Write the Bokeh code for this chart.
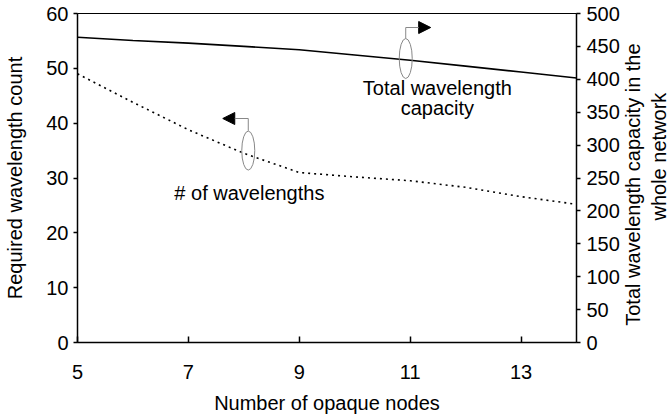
import math
from bokeh.plotting import figure
from bokeh.layouts import row
from bokeh.models import Range1d, LinearAxis, Arrow, NormalHead, FixedTicker
from bokeh.embed import file_html
from bokeh.resources import INLINE
from bokeh.core.properties import value

# ---- data ----
nodes = [5, 6, 7, 8, 9, 10, 11, 12, 13, 14]
wavelength_count = [49.0, 43.8, 38.8, 34.5, 31.0, 30.2, 29.5, 28.3, 26.6, 25.2]
total_capacity = [464, 459, 455, 450, 445, 437, 429, 420, 411, 402]
x_ticks = [5, 7, 9, 11, 13]
left_ticks = [0, 10, 20, 30, 40, 50, 60]
right_ticks = [0, 50, 100, 150, 200, 250, 300, 350, 400, 450, 500]
right_title = ["Total wavelength capacity in the", "whole network"]

# annotation anchors (data coordinates)
count_note = dict(x=8.08, y=35.0, top=38.6, bend=40.85, head=7.62)
cap_note = dict(x=10.92, y=431.6, top=462.0, bend=478.7, head=11.37)
right_title_x = [10, 36]      # within the side title strip
right_title_y = [28.8, 33.9]  # in left-axis units

FONT = "Liberation Sans"
FS = "20px"

p = figure(frame_width=499, frame_height=329, output_backend="svg", toolbar_location=None,
           x_range=Range1d(5, 14), y_range=Range1d(0, 60),
           min_border_left=77, min_border_right=44, min_border_top=13, min_border_bottom=73)
p.extra_y_ranges = {"right": Range1d(0, 500)}
p.grid.visible = False
p.outline_line_color = "black"
p.outline_line_width = 1
p.background_fill_color = "white"
p.border_fill_color = "white"

# x axis
xa = p.xaxis[0]
xa.ticker = FixedTicker(ticks=x_ticks)
xa.minor_tick_line_color = None
xa.major_tick_in = 6
xa.major_tick_out = 0
xa.major_label_standoff = 22
xa.axis_label = "Number of opaque nodes"
xa.axis_label_standoff = 10
# left axis
ya = p.yaxis[0]
ya.ticker = FixedTicker(ticks=left_ticks)
ya.minor_tick_line_color = None
ya.major_tick_in = 0
ya.major_tick_out = 4
ya.major_label_standoff = 5
ya.axis_label = "Required wavelength count"
ya.axis_label_standoff = 17
# right axis
ra = LinearAxis(y_range_name="right", ticker=FixedTicker(ticks=right_ticks))
ra.minor_tick_line_color = None
ra.major_tick_in = 0
ra.major_tick_out = 4
ra.major_label_standoff = 6
p.add_layout(ra, "right")

for ax in (xa, ya, ra):
    ax.axis_line_color = "black"
    ax.axis_line_width = 1.5
    ax.major_tick_line_color = "black"
    ax.major_tick_line_width = 1.5
    ax.major_label_text_font = FONT
    ax.major_label_text_font_size = FS
    ax.major_label_text_color = "black"
    ax.axis_label_text_font = FONT
    ax.axis_label_text_font_size = FS
    ax.axis_label_text_font_style = "normal"
    ax.axis_label_text_color = "black"

# series
p.line(nodes, wavelength_count, line_color="black", line_width=1.6, line_dash="2 4")
p.line(nodes, total_capacity, line_color="black", line_width=1.6, y_range_name="right")

# annotations: ellipses + arrows
p.ellipse(x=[count_note["x"]], y=[count_note["y"]], width=13, height=39,
          width_units="screen", height_units="screen",
          fill_color=None, line_color="#888888", line_width=1)
p.segment(x0=[count_note["x"]], y0=[count_note["top"]], x1=[count_note["x"]], y1=[count_note["bend"]],
          line_color="#888888", line_width=1)
p.add_layout(Arrow(x_start=count_note["x"], y_start=count_note["bend"],
                   x_end=count_note["head"], y_end=count_note["bend"],
                   line_color="#888888", line_width=1,
                   end=NormalHead(size=12, fill_color="black", line_color="black")))

p.ellipse(x=[cap_note["x"]], y=[cap_note["y"]], width=13, height=40,
          width_units="screen", height_units="screen",
          fill_color=None, line_color="#888888", line_width=1, y_range_name="right")
p.segment(x0=[cap_note["x"]], y0=[cap_note["top"]], x1=[cap_note["x"]], y1=[cap_note["bend"]],
          line_color="#888888", line_width=1, y_range_name="right")
p.add_layout(Arrow(x_start=cap_note["x"], y_start=cap_note["bend"],
                   x_end=cap_note["head"], y_end=cap_note["bend"],
                   line_color="#888888", line_width=1, y_range_name="right",
                   end=NormalHead(size=12, fill_color="black", line_color="black")))

# text labels
p.text(x=[8.10], y=[27.2], text=["# of wavelengths"], text_font=value(FONT),
       text_font_size=FS, text_align="center", text_baseline="middle", text_color="black")
p.text(x=[11.49, 11.49], y=[46.5, 42.7], text=["Total wavelength", "capacity"], text_font=value(FONT),
       text_font_size=FS, text_align="center", text_baseline="middle", text_color="black")

# side strip holding the right-axis title (reads bottom-to-top, first line nearest the axis)
side = figure(frame_width=46, frame_height=329, output_backend="svg", toolbar_location=None,
              x_range=Range1d(0, 46), y_range=Range1d(0, 60),
              x_axis_type=None, y_axis_type=None,
              min_border_left=0, min_border_right=0, min_border_top=13, min_border_bottom=73)
side.grid.visible = False
side.outline_line_color = None
side.background_fill_color = "white"
side.border_fill_color = "white"
side.text(x=right_title_x, y=right_title_y, text=right_title, angle=math.pi / 2,
          text_font=value(FONT), text_font_size=FS, text_align="center",
          text_baseline="middle", text_color="black")

layout = row(p, side, spacing=0)
open("out.html", "w").write(file_html(layout, INLINE))
